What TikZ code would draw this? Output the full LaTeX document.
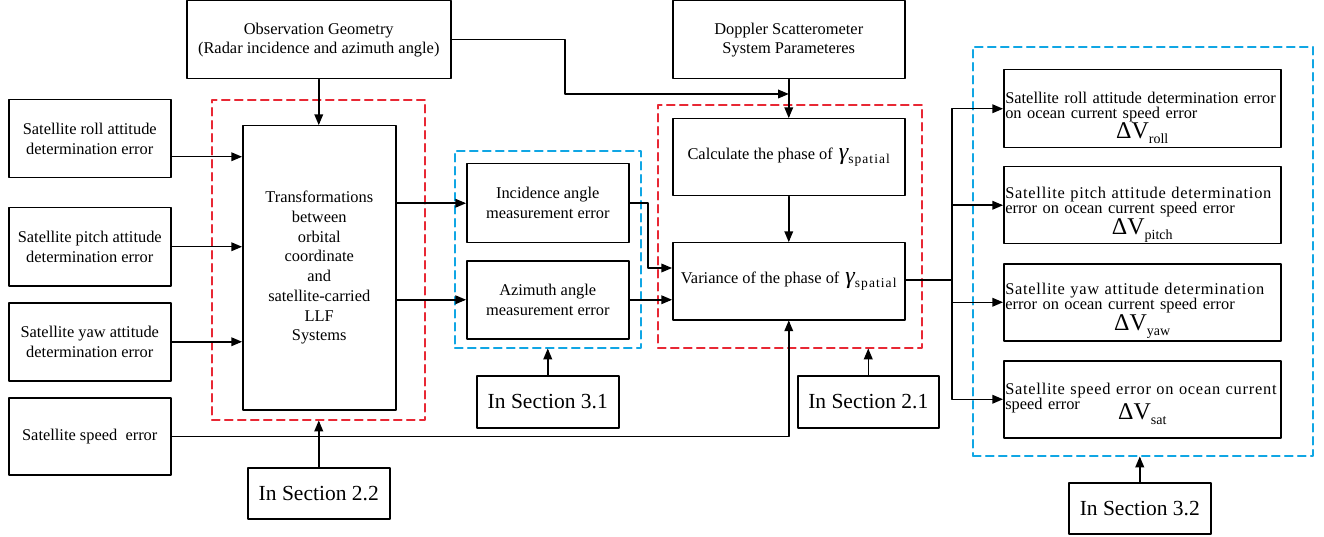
\documentclass[tikz,border=0pt]{standalone}
\usepackage{fontspec}
\setmainfont{Liberation Serif}
\usetikzlibrary{arrows}
\definecolor{dashred}{RGB}{232,40,52}
\definecolor{dashblue}{RGB}{16,166,228}
\newcommand{\sz}[2]{\fontsize{#1}{#2}\selectfont}
\newcommand{\dV}[2]{\par\centering\lineskiplimit=-50pt\sz{24}{#1}ΔV\raisebox{-5pt}[0pt][0pt]{\sz{14}{14}#2}\par}
\newcommand{\gsp}{\hspace{6pt}{\sz{24}{22}\itshape γ}\raisebox{-4pt}{\sz{13.5}{14}\addfontfeature{LetterSpace=8}spatial}}
\newcommand{\spread}[1]{{\addfontfeature{LetterSpace=4.5}#1}}

\begin{document}
\begin{tikzpicture}[line cap=round,line join=round,>=triangle 45,x=1pt,y=-1pt,
  box/.style={draw,line width=1.5pt,anchor=north west,align=center,inner sep=1pt,font=\sz{16.4}{20}},
  outbox/.style={box,minimum width=277,minimum height=77,text width=274,align=left,font=\sz{16.4}{15}},
  secbox/.style={box,minimum width=142,minimum height=52,font=\sz{21.5}{24}},
  redframe/.style={draw=dashred,line width=1.6pt,dash pattern=on 8pt off 5pt,anchor=north west,inner sep=0pt},
  blueframe/.style={redframe,draw=dashblue}]
\useasboundingbox (0,0) rectangle (1324,537);
% dashed groups
\node[redframe,minimum width=213,minimum height=320] (grp1) at (211,99) {};
\node[blueframe,minimum width=186,minimum height=197] (grp2) at (454,150) {};
\node[redframe,minimum width=264,minimum height=243] (grp3) at (657,104) {};
\node[blueframe,minimum width=340,minimum height=409] (grp4) at (972,46) {};
% top boxes
\node[box,minimum width=264,minimum height=78,font=\sz{16.4}{19}] (obs) at (186,0) {Observation Geometry\\(Radar incidence and azimuth angle)};
\node[box,minimum width=232,minimum height=78,font=\sz{16.4}{19}] (dop) at (672,0) {Doppler Scatterometer\\System Parameteres};
% inputs
\node[box,minimum width=162,minimum height=78] (roll) at (8,99) {Satellite roll attitude\\determination error};
\node[box,minimum width=162,minimum height=78] (pitch) at (8,207) {Satellite pitch attitude\\determination error};
\node[box,minimum width=162,minimum height=78] (yaw) at (8,302) {Satellite yaw attitude\\determination error};
\node[box,minimum width=162,minimum height=77] (speed) at (8,397) {Satellite speed~~error};
\node[box,minimum width=153,minimum height=284,font=\sz{16.4}{19.7}] (trans) at (242,125) {Transformations\\between\\orbital\\coordinate\\and\\satellite-carried\\LLF\\Systems};
\node[box,minimum width=162,minimum height=79] (inc) at (466,163) {Incidence angle\\measurement error};
\node[box,minimum width=162,minimum height=78] (az) at (466,260) {Azimuth angle\\measurement error};
\node[box,minimum width=232,minimum height=77] (calc) at (672,118) {Calculate the phase of\gsp};
\node[box,minimum width=232,minimum height=77] (var) at (672,242) {Variance of the phase of\gsp};
% outputs
\node[outbox,minimum height=78] (r1) at (1003,69) {\rule{0pt}{25pt}Satellite roll attitude determination error\\on ocean current speed error\dV{20}{roll}};
\node[outbox] (r2) at (1003,166) {\rule{0pt}{22pt}\spread{Satellite pitch attitude determination}\\error on ocean current speed error\dV{21}{pitch}};
\node[outbox] (r3) at (1003,263) {\rule{0pt}{20pt}\spread{Satellite yaw attitude determination}\\error on ocean current speed error\dV{21}{yaw}};
\node[outbox] (r4) at (1003,360) {\rule{0pt}{15pt}\spread{Satellite speed error on ocean current}\\speed error\dV{10}{sat}};
% sections
\node[secbox,minimum height=51] (s22) at (247,467) {In Section 2.2};
\node[secbox] (s31) at (476,375) {In Section 3.1};
\node[secbox,minimum width=141] (s21) at (797,375) {In Section 2.1};
\node[secbox,minimum height=51] (s32) at (1068,482) {In Section 3.2};
% connectors
\begin{scope}[line width=1.5pt]
\coordinate (rollout) at ([yshift=-18pt]roll.east);
\draw[->] (rollout) -- (rollout -| trans.west);
\draw[->] (pitch.east) -- (pitch.east -| trans.west);
\draw[->] (yaw.east) -- (yaw.east -| trans.west);
\draw[->] (obs.south) -- (obs.south |- trans.north);
\draw[->] (inc.west -| trans.east) -- (inc.west);
\draw[->] (az.west -| trans.east) -- (az.west);
\coordinate (incbend) at (648,268);
\draw[->] (inc.east) -| (incbend) -- (incbend -| var.west);
\draw[->] (az.east) -- (az.east -| var.west);
\coordinate (obsbend) at (565,94);
\draw[->] (obs.east) -| (obsbend) -- (obsbend -| dop.south);
\draw[->] (dop.south) -- (calc.north);
\draw[->] (calc.south) -- (var.north);
\draw[->] (speed.east) -| (var.south);
\coordinate (bus) at (952,280);
\draw (var.east |- bus) -- (bus);
\foreach \r in {r1,r2,r3,r4}
\draw[->] (bus) |- (\r.west);
\draw[->] (s22.north) -- (s22.north |- grp1.south);
\draw[->] (s31.north) -- (s31.north |- grp2.south);
\draw[->] (s21.north) -- (s21.north |- grp3.south);
\draw[->] (s32.north) -- (s32.north |- grp4.south);
\end{scope}
\end{tikzpicture}
\end{document}
